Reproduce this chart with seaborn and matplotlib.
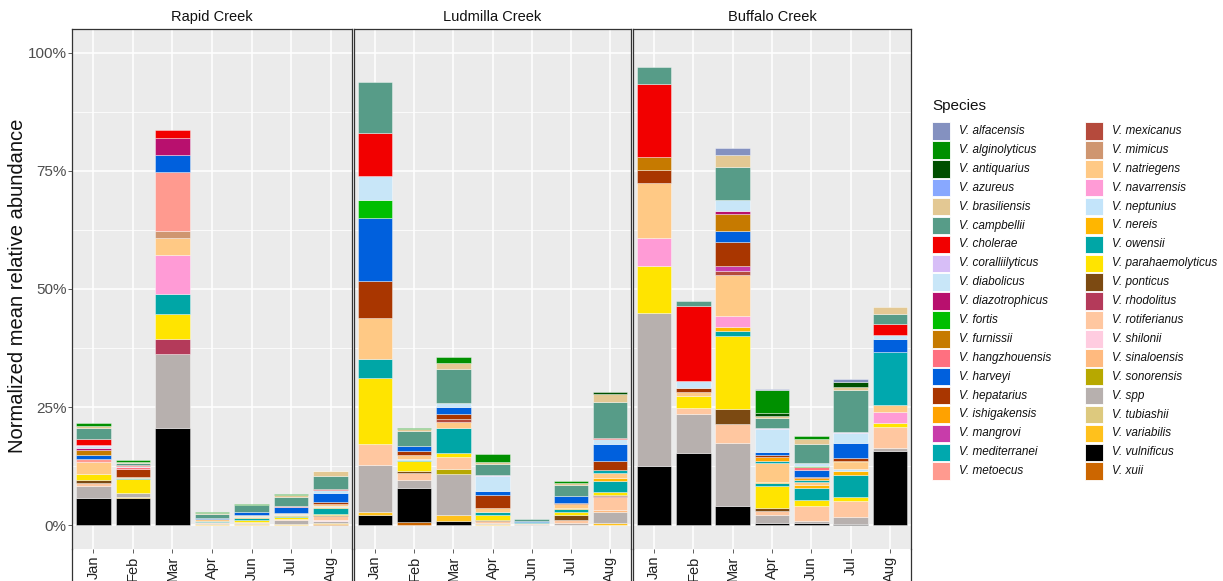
import matplotlib
matplotlib.use("Agg")
import matplotlib.pyplot as plt
import pandas as pd
import seaborn as sns
from matplotlib.patches import Rectangle
from matplotlib.lines import Line2D

# ---------------------------------------------------------------- data
sites = ["Rapid Creek", "Ludmilla Creek", "Buffalo Creek"]
months = ["Jan", "Feb", "Mar", "Apr", "Jun", "Jul", "Aug"]

species = [
    "alfacensis", "alginolyticus", "antiquarius", "azureus", "brasiliensis",
    "campbellii", "cholerae", "coralliilyticus", "diabolicus", "diazotrophicus",
    "fortis", "furnissii", "hangzhouensis", "harveyi", "hepatarius",
    "ishigakensis", "mangrovi", "mediterranei", "metoecus", "mexicanus",
    "mimicus", "natriegens", "navarrensis", "neptunius", "nereis", "owensii",
    "parahaemolyticus", "ponticus", "rhodolitus", "rotiferianus", "shilonii",
    "sinaloensis", "sonorensis", "spp", "tubiashii", "variabilis",
    "vulnificus", "xuii",
]
species_colors = [
    "#8491C0", "#009000", "#005000", "#88A8FF", "#E3C893",
    "#579C88", "#F20000", "#D7BEF7", "#C8E6F8", "#B8106E",
    "#00BE00", "#C67A00", "#FF7080", "#0060DD", "#A93600",
    "#FFA200", "#C83CAA", "#00A8AE", "#FF9A8F", "#B54A3C",
    "#CF9670", "#FFC985", "#FF9BD6", "#C3E4FA", "#FFB600", "#00A6A6",
    "#FFE400", "#7C4A12", "#B43A5A", "#FFC7A0", "#FFCCE0",
    "#FFBA7F", "#B7A800", "#B7B0AE", "#DDC97E", "#FFC11C",
    "#000000", "#CC6600",
]

# normalized mean relative abundance (%) per sample
rapid_jan = dict(vulnificus=5.7, spp=2.6, rotiferianus=0.7, ponticus=0.55, parahaemolyticus=1.4,
                 natriegens=2.4, metoecus=0.7, harveyi=0.9, furnissii=0.9, diazotrophicus=0.6,
                 diabolicus=0.35, coralliilyticus=0.2, cholerae=1.2, campbellii=2.5,
                 brasiliensis=0.35, alginolyticus=0.7)
rapid_feb = dict(vulnificus=5.75, variabilis=0.3, spp=0.7, parahaemolyticus=3.1, owensii=0.2,
                 natriegens=0.2, hepatarius=1.7, hangzhouensis=0.3, diabolicus=0.25,
                 cholerae=0.35, campbellii=0.35, brasiliensis=0.2, alginolyticus=0.35)
rapid_mar = dict(vulnificus=20.5, spp=15.8, rhodolitus=3.1, parahaemolyticus=5.4, owensii=4.2,
                 navarrensis=8.2, natriegens=3.5, mimicus=1.5, metoecus=12.5, harveyi=3.7,
                 diazotrophicus=3.5, cholerae=1.7)
rapid_apr = dict(spp=0.3, variabilis=0.2, rotiferianus=0.3, natriegens=0.3, owensii=0.2,
                 harveyi=0.3, campbellii=0.8, brasiliensis=0.2, alginolyticus=0.2)
rapid_jun = dict(spp=0.2, variabilis=0.3, rotiferianus=0.3, parahaemolyticus=0.4, owensii=0.4,
                 nereis=0.2, neptunius=0.2, natriegens=0.2, harveyi=0.7, campbellii=1.4,
                 alginolyticus=0.2)
rapid_jul = dict(spp=0.9, variabilis=0.2, rotiferianus=0.3, parahaemolyticus=0.3, owensii=0.2,
                 nereis=0.3, natriegens=0.3, neptunius=0.2, harveyi=1.2, hangzhouensis=0.2,
                 campbellii=2.0, brasiliensis=0.3, alginolyticus=0.3)
rapid_aug = dict(xuii=0.2, variabilis=0.2, spp=0.5, rotiferianus=0.9, shilonii=0.2, ponticus=0.2,
                 parahaemolyticus=0.3, owensii=1.1, nereis=0.3, neptunius=0.3, natriegens=0.4,
                 hepatarius=0.4, harveyi=1.9, diabolicus=0.6, cholerae=0.2, campbellii=2.8,
                 brasiliensis=0.9, alginolyticus=0.2)

ludmilla_jan = dict(vulnificus=2.2, variabilis=0.7, spp=9.8, rotiferianus=4.6, parahaemolyticus=13.9,
                    owensii=3.9, natriegens=8.7, hepatarius=7.9, harveyi=13.3, fortis=3.9,
                    diabolicus=4.9, cholerae=9.1, campbellii=10.9)
ludmilla_feb = dict(xuii=0.8, vulnificus=7.0, spp=1.8, rotiferianus=1.5, ponticus=0.3,
                    parahaemolyticus=2.2, owensii=0.3, natriegens=0.8, neptunius=0.2, hepatarius=0.9,
                    harveyi=0.9, campbellii=3.2, brasiliensis=0.5, alginolyticus=0.3)
ludmilla_mar = dict(vulnificus=1.0, variabilis=1.2, spp=8.6, sonorensis=1.1, rotiferianus=2.6,
                    parahaemolyticus=0.9, owensii=5.3, natriegens=1.2, mexicanus=0.7, hepatarius=0.9,
                    harveyi=1.5, diabolicus=0.9, campbellii=7.2, brasiliensis=1.3, alginolyticus=1.3)
ludmilla_apr = dict(variabilis=0.3, spp=0.3, rotiferianus=0.3, ponticus=0.3, parahaemolyticus=1.0,
                    owensii=0.7, natriegens=0.7, hepatarius=2.9, harveyi=0.7, coralliilyticus=0.2,
                    diabolicus=3.3, campbellii=2.2, brasiliensis=0.4, alginolyticus=1.9)
ludmilla_jun = dict(spp=0.3, rotiferianus=0.2, owensii=0.2, harveyi=0.3, campbellii=0.4)
ludmilla_jul = dict(spp=0.4, rotiferianus=0.8, ponticus=0.9, parahaemolyticus=0.8, nereis=0.3,
                    owensii=0.5, natriegens=0.8, hepatarius=0.3, harveyi=1.4, campbellii=2.3,
                    brasiliensis=0.5, alginolyticus=0.3)
ludmilla_aug = dict(variabilis=0.4, spp=2.5, sinaloensis=0.4, rotiferianus=2.6, rhodolitus=0.3,
                    ponticus=0.3, parahaemolyticus=0.6, owensii=2.2, nereis=0.8, natriegens=0.9,
                    mediterranei=0.7, hepatarius=2.0, harveyi=3.5, diabolicus=1.0, cholerae=0.3,
                    campbellii=7.6, brasiliensis=1.6, antiquarius=0.6)

buffalo_jan = dict(vulnificus=12.5, spp=32.5, parahaemolyticus=9.8, navarrensis=6.0, natriegens=11.6,
                   hepatarius=2.8, furnissii=2.8, cholerae=15.4, campbellii=3.5)
buffalo_feb = dict(vulnificus=15.4, spp=8.1, rotiferianus=1.4, parahaemolyticus=2.4, natriegens=1.0,
                   hepatarius=0.7, diabolicus=1.6, cholerae=15.8, campbellii=1.1)
buffalo_mar = dict(vulnificus=4.1, spp=13.3, rotiferianus=4.0, ponticus=3.3, parahaemolyticus=15.4,
                   owensii=1.1, nereis=0.8, navarrensis=2.3, natriegens=8.6, mexicanus=0.9,
                   mangrovi=1.1, hepatarius=5.1, harveyi=2.3, furnissii=3.5, diazotrophicus=0.7,
                   diabolicus=2.3, campbellii=7.0, brasiliensis=2.5, alfacensis=1.5)
buffalo_apr = dict(vulnificus=0.6, spp=1.6, rotiferianus=0.9, ponticus=0.6, parahaemolyticus=4.6,
                   owensii=0.6, nereis=0.3, natriegens=3.9, mediterranei=0.5, ishigakensis=0.9,
                   hepatarius=0.4, harveyi=0.6, coralliilyticus=0.2, diabolicus=4.9, campbellii=2.1,
                   brasiliensis=0.5, antiquarius=0.6, alginolyticus=4.8, alfacensis=0.3)
buffalo_jun = dict(vulnificus=0.6, spp=0.4, rotiferianus=3.0, parahaemolyticus=1.3, owensii=2.7,
                   nereis=0.6, natriegens=0.5, mediterranei=0.5, ishigakensis=0.4, hepatarius=0.3,
                   harveyi=1.4, hangzhouensis=0.6, fortis=0.3, diabolicus=0.5, campbellii=4.2,
                   brasiliensis=1.0, alginolyticus=0.6)
buffalo_jul = dict(vulnificus=0.3, spp=1.5, rotiferianus=3.3, parahaemolyticus=0.9, owensii=4.6,
                   nereis=0.8, neptunius=0.5, natriegens=1.4, ishigakensis=0.3, hepatarius=0.6,
                   harveyi=3.2, diabolicus=2.1, coralliilyticus=0.3, campbellii=8.9, brasiliensis=0.6,
                   antiquarius=1.1, alfacensis=0.5)
buffalo_aug = dict(vulnificus=15.7, spp=0.7, rotiferianus=4.4, parahaemolyticus=0.8, navarrensis=2.4,
                   natriegens=1.5, mediterranei=11.2, harveyi=2.7, diabolicus=0.8, cholerae=2.5,
                   campbellii=2.0, brasiliensis=1.5)

samples = {
    "Rapid Creek": [rapid_jan, rapid_feb, rapid_mar, rapid_apr, rapid_jun, rapid_jul, rapid_aug],
    "Ludmilla Creek": [ludmilla_jan, ludmilla_feb, ludmilla_mar, ludmilla_apr, ludmilla_jun,
                       ludmilla_jul, ludmilla_aug],
    "Buffalo Creek": [buffalo_jan, buffalo_feb, buffalo_mar, buffalo_apr, buffalo_jun,
                      buffalo_jul, buffalo_aug],
}

labels = ["V. " + s for s in species]
palette = dict(zip(labels, species_colors))

rows = []
for site in sites:
    for month, values in zip(months, samples[site]):
        for sp, v in values.items():
            rows.append({"site": site, "month": month, "species": "V. " + sp, "abundance": v})
df = pd.DataFrame(rows)
df["month"] = pd.Categorical(df["month"], categories=months, ordered=True)

# ---------------------------------------------------------------- figure
W, H = 1223, 581
fig = plt.figure(figsize=(W / 100, H / 100), dpi=100)
FONT = "Liberation Sans"

panel_x = [(72, 352), (354, 631), (633, 911)]
top_px, bot_px = 29, 549

axes = []
for (x0, x1), site in zip(panel_x, sites):
    ax = fig.add_axes([x0 / W, 1 - bot_px / H, (x1 - x0) / W, (bot_px - top_px) / H])
    axes.append(ax)
    sub = df[df["site"] == site]
    sns.histplot(
        data=sub, x="month", weights="abundance", hue="species",
        hue_order=labels, palette=palette, multiple="stack", discrete=True,
        shrink=0.88, alpha=1, edgecolor=(1, 1, 1, 0.55), linewidth=0.5,
        legend=False, ax=ax,
    )
    for p in ax.patches:
        if p.get_height() == 0:
            p.set_visible(False)

    ax.set_facecolor("#EBEBEB")
    ax.set_xlim(-0.54, 6.54)
    ax.set_ylim(-5, 105)
    ax.set_yticks([0, 25, 50, 75, 100])
    ax.set_yticks([12.5, 37.5, 62.5, 87.5], minor=True)
    ax.set_xticks(range(len(months)))
    ax.set_xticklabels(months, rotation=90, fontsize=10.5, family=FONT, color="#222222")
    ax.grid(which="major", color="white", linewidth=1.1)
    ax.grid(which="minor", axis="y", color="white", linewidth=0.55)
    ax.set_axisbelow(True)
    ax.tick_params(axis="x", length=3, width=0.6, color="#444444", pad=2)
    ax.tick_params(axis="y", which="minor", length=0)
    ax.set_xlabel("")
    ax.set_ylabel("")
    for sp in ax.spines.values():
        sp.set_color("#333333")
        sp.set_linewidth(0.9)
    ax.spines["bottom"].set_visible(False)
    ax.set_title(site, fontsize=10.5, family=FONT, pad=6, color="#111111")

    # panel frames run down through the month labels
    for xe in (x0, x1):
        fig.add_artist(Line2D([xe / W, xe / W], [0, 1 - bot_px / H],
                              transform=fig.transFigure, color="#333333", linewidth=0.9))

axes[0].set_yticklabels(["0%", "25%", "50%", "75%", "100%"], fontsize=11, family=FONT,
                        color="#4D4D4D")
axes[0].tick_params(axis="y", length=3, width=0.6, color="#444444", pad=1)
for ax in axes[1:]:
    ax.tick_params(axis="y", which="both", length=0, labelleft=False)

fig.text(18 / W, 1 - 286 / H, "Normalized mean relative abundance", rotation=90,
         ha="center", va="center", fontsize=14.5, family=FONT, color="#111111")

# ---------------------------------------------------------------- legend
fig.text(932 / W, 1 - 106 / H, "Species", ha="left", va="center", fontsize=11,
         family=FONT, color="#111111")
n_rows = 19
key = 17.5
for i, (lab, col) in enumerate(zip(labels, species_colors)):
    c, r = divmod(i, n_rows)
    kx = 932 + c * 153
    cy = 131 + r * 18.9
    fig.add_artist(Rectangle((kx / W, 1 - (cy + key / 2) / H), key / W, key / H,
                             transform=fig.transFigure, facecolor=col,
                             edgecolor="white", linewidth=0.6))
    fig.text((kx + 27) / W, 1 - cy / H, lab, ha="left", va="center", fontsize=8.5,
             family=FONT, style="italic", color="#111111")

fig.savefig("out.png", dpi=100, facecolor="white")
